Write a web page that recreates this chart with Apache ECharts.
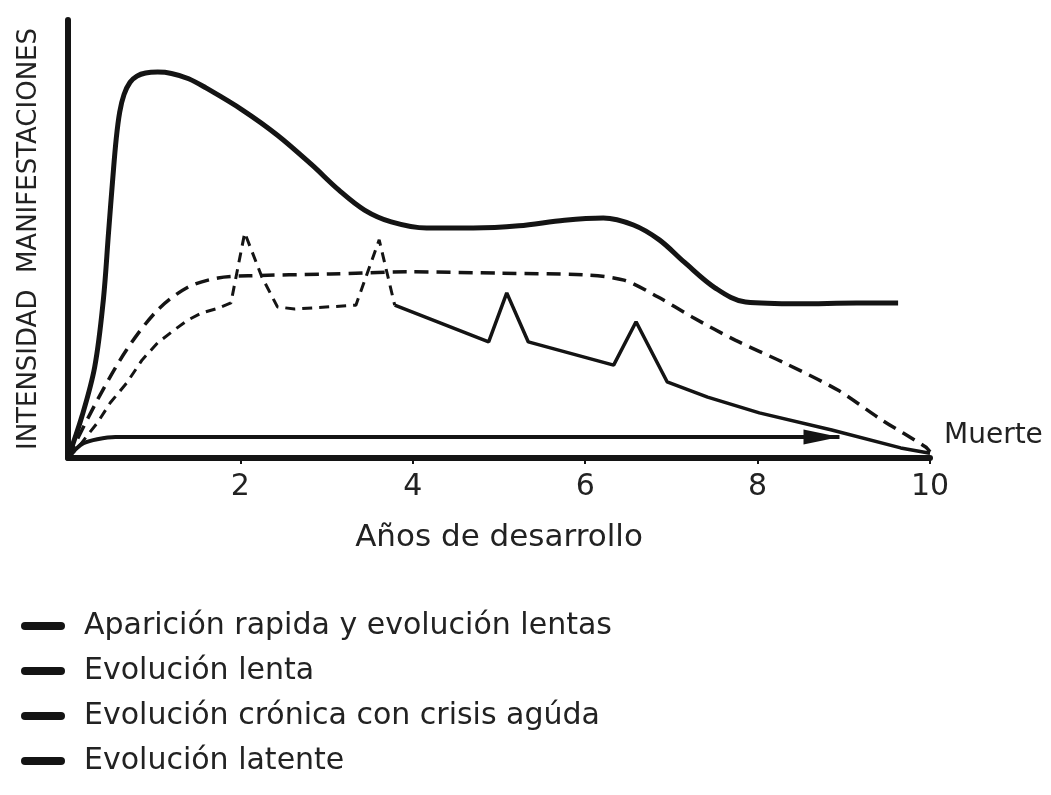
<!DOCTYPE html>
<html>
<head>
<meta charset="utf-8">
<script src="https://cdn.jsdelivr.net/npm/echarts@6/dist/echarts.min.js"></script>
<style>
  html, body { margin: 0; padding: 0; background: #fff; }
  #chart { width: 1051px; height: 795px; }
</style>
</head>
<body>
<div id="chart"></div>
<script>
// [años, intensidad]
const rapidaPts = [[0, 0], [0.16, 9.4], [0.31, 20.8], [0.41, 36.1], [0.47, 51.4], [0.52, 64.0],
  [0.56, 73.0], [0.6, 79.0], [0.65, 83.0], [0.72, 85.8], [0.8, 87.2], [0.9, 87.9], [1.04, 88.1],
  [1.2, 87.8], [1.4, 86.6], [1.6, 84.5], [2.02, 79.5], [2.43, 73.7], [2.83, 66.9], [3.14, 61.2],
  [3.44, 56.6], [3.75, 53.9], [4.16, 52.5], [4.7, 52.5], [5.23, 53.0], [5.76, 54.3], [6.21, 54.8],
  [6.56, 53.2], [6.86, 49.8], [7.15, 44.7], [7.51, 38.8], [7.86, 35.6], [8.47, 35.2], [9.15, 35.4],
  [9.63, 35.4]]
const lentaPts = [[0, 0], [0.34, 13.2], [0.68, 24.7], [1.04, 33.8], [1.39, 39.0], [1.74, 41.1],
  [2.09, 41.6], [3.04, 42.0], [3.95, 42.5], [5.02, 42.2], [5.98, 41.8], [6.45, 40.6], [6.84, 36.8],
  [7.24, 32.2], [7.74, 26.9], [8.31, 21.7], [8.93, 15.5], [9.44, 8.7], [9.95, 2.5], [10, 1.4]]
// crisis: tramo punteado hasta la segunda crisis, despues continuo
const cronicaA = [[0, 0], [0.13, 2.7], [0.23, 5.3], [0.34, 8.0], [0.49, 12.6], [0.68, 17.1],
  [0.86, 22.4], [1.04, 26.3], [1.23, 29.2], [1.39, 31.5], [1.55, 33.1], [1.74, 34.2], [1.89, 35.4],
  [2.05, 51.4], [2.25, 41.3], [2.43, 34.5], [2.63, 34.0], [3.34, 34.9], [3.61, 49.8], [3.79, 34.9]]
const cronicaB = [[3.79, 34.9], [4.88, 26.5], [5.09, 37.7], [5.34, 26.5], [6.33, 21.2], [6.59, 31.1],
  [6.95, 17.4], [7.42, 13.9], [8.02, 10.3], [8.86, 6.4], [9.66, 2.3], [10, 1.1]]
const latentePts = [[0, 0], [0.1, 2.2], [0.18, 3.4], [0.34, 4.3], [0.55, 4.8], [8.95, 4.8]]

const names = ['Aparición rapida y evolución lentas', 'Evolución lenta',
  'Evolución crónica con crisis agúda', 'Evolución latente']
const xTicks = [2, 4, 6, 8, 10]

const ink = '#141414'
const font = 'DejaVu Sans'
const pill = 'path://M4,0 L40,0 A4,4 0 0 1 40,8 L4,8 A4,4 0 0 1 4,0 Z'

const myChart = echarts.init(document.getElementById('chart'))
const option = {
  backgroundColor: '#fff',
  animation: false,
  grid: { left: 68, top: 20, right: 121, bottom: 337 },
  legend: {
    orient: 'vertical',
    left: 16,
    top: 603,
    icon: pill,
    itemWidth: 44,
    itemHeight: 9,
    itemGap: 9,
    data: names,
    itemStyle: { color: ink },
    textStyle: { fontFamily: font, fontSize: 30, color: '#222', lineHeight: 36, padding: [0, 0, 0, 14] }
  },
  xAxis: {
    type: 'value',
    min: 0,
    max: 10,
    interval: 2,
    name: 'Años de desarrollo',
    nameLocation: 'middle',
    nameGap: 64,
    nameTextStyle: { fontFamily: font, fontSize: 31, color: '#222' },
    axisLine: { lineStyle: { color: ink, width: 6 } },
    axisTick: { show: true, length: 6, lineStyle: { color: ink, width: 2 } },
    axisLabel: {
      showMinLabel: false,
      margin: 14,
      fontFamily: font,
      fontSize: 30,
      color: '#222',
      formatter: v => (xTicks.indexOf(v) >= 0 ? String(v) : '')
    },
    splitLine: { show: false }
  },
  yAxis: {
    type: 'value',
    min: 0,
    max: 100,
    name: 'INTENSIDAD  MANIFESTACIONES',
    nameLocation: 'middle',
    nameGap: 26,
    nameTextStyle: { fontFamily: font, fontSize: 26, color: '#222' },
    axisLine: { show: true, lineStyle: { color: ink, width: 6 } },
    axisTick: { show: false },
    axisLabel: { show: false },
    splitLine: { show: false }
  },
  series: [
    {
      name: names[0],
      type: 'line',
      data: rapidaPts,
      smooth: 0.35,
      symbol: 'none',
      lineStyle: { color: ink, width: 5 }
    },
    {
      name: names[1],
      type: 'line',
      data: lentaPts,
      smooth: 0.3,
      symbol: 'none',
      lineStyle: { color: ink, width: 3.5, type: [14, 8] },
      endLabel: {
        show: true,
        formatter: 'Muerte',
        fontFamily: font,
        fontSize: 28,
        color: '#222',
        offset: [6, -16]
      }
    },
    {
      name: names[2],
      type: 'line',
      data: cronicaA,
      symbol: 'none',
      lineStyle: { color: ink, width: 3, type: [10, 7] }
    },
    {
      name: names[2],
      type: 'line',
      data: cronicaB,
      symbol: 'none',
      lineStyle: { color: ink, width: 3.5 }
    },
    {
      name: names[3],
      type: 'line',
      data: latentePts.map((p, i) => i === latentePts.length - 1
        ? { value: p, symbol: 'triangle', symbolSize: [15, 36], symbolRotate: -90, symbolOffset: [-18, 0] }
        : p),
      smooth: 0.3,
      symbol: 'none',
      showSymbol: true,
      itemStyle: { color: ink },
      lineStyle: { color: ink, width: 4 }
    }
  ]
}
myChart.setOption(option)
</script>
</body>
</html>
